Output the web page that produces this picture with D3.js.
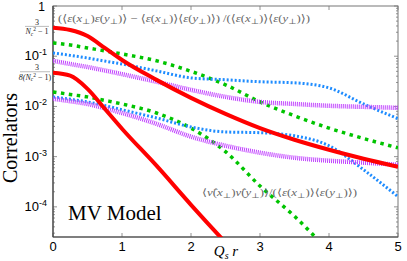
<!DOCTYPE html>
<html>
<head>
<meta charset="utf-8">
<script src="https://cdn.jsdelivr.net/npm/d3@7"></script>
<style>
  body { margin: 0; background: #fff; }
  svg { display: block; }
</style>
</head>
<body>
<div id="chart"></div>
<script>
// Q_s r sample points
var qVals = [0, 0.25, 0.5, 0.75, 1, 1.5, 2, 2.5, 3, 3.5, 4, 4.5, 5];

// upper group: connected energy density correlator
var redUpper     = [0.37, 0.333, 0.253, 0.146, 0.084, 0.0338, 0.0148, 0.0071, 0.0037, 0.00217, 0.00137, 0.00091, 0.00063];
var greenUpper   = [0.184, 0.167, 0.146, 0.128, 0.111, 0.081, 0.050, 0.027, 0.0123, 0.0065, 0.0037, 0.0023, 0.0015];
var blueUpper    = [0.116, 0.104, 0.092, 0.080, 0.070, 0.051, 0.037, 0.034, 0.031, 0.0295, 0.0234, 0.0112, 0.0057];
var magentaUpper = [0.081, 0.070, 0.061, 0.052, 0.044, 0.031, 0.0214, 0.0155, 0.0123, 0.0112, 0.0103, 0.0098, 0.0094];

// lower group: nu-hat correlator
var redLower     = [0.047, 0.041, 0.0224, 0.009, 0.0036, 0.00066, 0.00011, 1.95e-5, 3.7e-6, 7e-7, 1.3e-7, 2.5e-8, 5e-9];
var greenLower   = [0.0195, 0.0173, 0.0155, 0.0132, 0.0112, 0.0074, 0.0037, 0.00126, 0.00026, 6.5e-5, 1.3e-5, 2.4e-6, 5e-7];
var blueLower    = [0.0155, 0.0139, 0.0123, 0.0104, 0.0086, 0.0059, 0.0039, 0.0031, 0.0030, 0.0026, 0.00165, 0.00055, 0.00016];
var magentaLower = [0.0142, 0.0127, 0.0112, 0.0092, 0.0074, 0.0045, 0.0025, 0.00165, 0.0012, 0.00095, 0.00083, 0.00076, 0.00069];

var xTicks = [0, 1, 2, 3, 4, 5];
var yTicks = [1, 0.1, 0.01, 0.001, 0.0001];
var Nc = 3;
var fracTicks = [3 / (Nc * Nc - 1), 3 / (8 * (Nc * Nc - 1))];

var W = 407, H = 261;
var margin = {top: 6, right: 9, bottom: 24, left: 53},
    width = W - margin.left - margin.right,
    height = H - margin.top - margin.bottom;

var x = d3.scaleLinear().domain([0, 5]).range([0, width]);
var y = d3.scaleLog().domain([Math.pow(10, -4.6), 1]).range([height, 0]);

var svg = d3.select("#chart").append("svg")
    .attr("width", W)
    .attr("height", H);

var g = svg.append("g")
    .attr("transform", "translate(" + margin.left + "," + margin.top + ")");

g.append("clipPath").attr("id", "clip")
  .append("rect").attr("width", width).attr("height", height);

var axisColor = "#777";

// minor / major log ticks on left and right sides
var logTicks = [];
for (var k = -5; k <= 0; k++) {
  for (var m = 1; m <= 9; m++) {
    var v = m * Math.pow(10, k);
    if (v >= y.domain()[0] && v <= 1) logTicks.push({v: v, major: m == 1});
  }
}
g.selectAll(".ltick").data(logTicks).enter().append("line")
    .attr("x1", 0).attr("x2", function(d) { return d.major ? 4 : 2; })
    .attr("y1", function(d) { return y(d.v); }).attr("y2", function(d) { return y(d.v); })
    .style("stroke", axisColor).style("stroke-width", 0.8);
g.selectAll(".rtick").data(logTicks).enter().append("line")
    .attr("x1", width).attr("x2", function(d) { return width - (d.major ? 4 : 2); })
    .attr("y1", function(d) { return y(d.v); }).attr("y2", function(d) { return y(d.v); })
    .style("stroke", axisColor).style("stroke-width", 0.8);

// top/bottom ticks
g.selectAll(".btick").data(xTicks).enter().append("line")
    .attr("x1", function(d) { return x(d); }).attr("x2", function(d) { return x(d); })
    .attr("y1", height).attr("y2", height - 4)
    .style("stroke", axisColor).style("stroke-width", 0.8);
g.selectAll(".ttick").data(xTicks).enter().append("line")
    .attr("x1", function(d) { return x(d); }).attr("x2", function(d) { return x(d); })
    .attr("y1", 0).attr("y2", 4)
    .style("stroke", axisColor).style("stroke-width", 0.8);

// frame
g.append("rect")
    .attr("width", width).attr("height", height)
    .style("fill", "none").style("stroke", axisColor).style("stroke-width", 1);
g.append("line").attr("x1", 0).attr("x2", 0).attr("y1", 0).attr("y2", height)
    .style("stroke", "#444").style("stroke-width", 1.2);
g.append("line").attr("x1", 0).attr("x2", width).attr("y1", height).attr("y2", height)
    .style("stroke", "#444").style("stroke-width", 1.2);

// x tick labels
g.selectAll(".xlab").data(xTicks).enter().append("text")
    .attr("x", function(d) { return x(d); })
    .attr("y", height + 14)
    .style("font-family", "Liberation Sans, Arial, sans-serif")
    .style("font-size", "13px")
    .style("text-anchor", "middle")
    .text(function(d) { return d; });

// y tick labels
var ylab = g.selectAll(".ylab").data(yTicks).enter().append("text")
    .attr("x", -6)
    .attr("y", function(d) { return y(d) + 4; })
    .style("font-family", "Liberation Sans, Arial, sans-serif")
    .style("font-size", "13px")
    .style("text-anchor", "end");
ylab.each(function(d) {
  var t = d3.select(this);
  if (d == 1) { t.attr("x", -8).attr("y", y(d) + 5).style("font-size", "12px").text("1"); return; }
  t.append("tspan").text("10");
  t.append("tspan").attr("dy", -5).style("font-size", "9px")
    .text("-" + Math.round(-Math.log10(d)));
});

// fraction labels 3/(Nc^2-1) and 3/(8(Nc^2-1))
var serif = "Liberation Serif, 'DejaVu Serif', serif";
fracTicks.forEach(function(v, i) {
  var yy = y(v), cx = i == 0 ? -16 : -18;
  var fg = g.append("g").style("font-family", serif).style("font-size", "8px").style("fill", "#222");
  fg.append("text").attr("x", cx + (i == 0 ? 0 : 2)).attr("y", yy - 2.5).style("text-anchor", "middle").text("3");
  var lw = i == 0 ? 12 : 15;
  fg.append("line").attr("x1", cx - lw).attr("x2", cx + lw).attr("y1", yy - 1).attr("y2", yy - 1)
    .style("stroke", "#555").style("stroke-width", 0.4);
  var den = fg.append("text").attr("x", cx).attr("y", yy + 7).style("text-anchor", "middle");
  den.append("tspan").style("font-style", "italic").text(i == 0 ? "N" : "8(N");
  den.append("tspan").attr("dy", 1.5).style("font-size", "5.5px").style("font-style", "italic").text("c");
  den.append("tspan").attr("dy", -4.5).style("font-size", "5.5px").text("2");
  den.append("tspan").attr("dy", 3).text(" \u2212 1" + (i == 0 ? "" : ")"));
});

// curves
var line = d3.line()
    .x(function(d) { return x(d[0]); })
    .y(function(d) { return y(d[1]); })
    .curve(d3.curveMonotoneX);

function pairs(vals) { return qVals.map(function(q, i) { return [q, vals[i]]; }); }

var series = [
  {vals: greenUpper,   color: "#00c400", w: 3.5, dash: "3.5,4.5"},
  {vals: greenLower,   color: "#00c400", w: 3.5, dash: "3.5,4.5"},
  {vals: blueUpper,    color: "#1e8cff", w: 3,   dash: "2,2"},
  {vals: blueLower,    color: "#1e8cff", w: 3,   dash: "2,2"},
  {vals: magentaUpper, color: "#c040ff", w: 4.5, dash: "1,1"},
  {vals: magentaLower, color: "#c040ff", w: 4.5, dash: "1,1"},
  {vals: redUpper,     color: "#ff0000", w: 4,   dash: null},
  {vals: redLower,     color: "#ff0000", w: 4,   dash: null}
];

var plot = g.append("g").attr("clip-path", "url(#clip)");
series.forEach(function(s) {
  plot.append("path")
      .datum(pairs(s.vals))
      .attr("d", line)
      .style("fill", "none")
      .style("stroke", s.color)
      .style("stroke-width", s.w)
      .style("stroke-dasharray", s.dash);
});

// formula labels: "_" marks the next char as subscript
function formula(sel, str) {
  var shift = 0;
  for (var i = 0; i < str.length; i++) {
    var c = str[i];
    if (c == "_") {
      sel.append("tspan").attr("dy", 2).style("font-size", "0.7em").text(str[i + 1]);
      shift = -2;
      i++;
      continue;
    }
    // keep combining hat with its letter
    if (str[i + 1] == "\u0302") { c += "\u0302"; i++; }
    var ts = sel.append("tspan").text(c);
    if ("\u03b5xy\u03bd".indexOf(c[0]) >= 0) ts.style("font-style", "italic");
    if (shift) { ts.attr("dy", shift); shift = 0; }
  }
}

var topLab = g.append("text")
    .attr("x", 5).attr("y", 16)
    .attr("textLength", 252).attr("lengthAdjust", "spacingAndGlyphs")
    .style("font-family", serif).style("font-size", "11px").style("fill", "#666");
formula(topLab, "(\u27e8\u03b5(x_\u22a5)\u03b5(y_\u22a5)\u27e9 \u2212 \u27e8\u03b5(x_\u22a5)\u27e9\u27e8\u03b5(y_\u22a5)\u27e9) /(\u27e8\u03b5(x_\u22a5)\u27e9\u27e8\u03b5(y_\u22a5)\u27e9)");

var lowLab = g.append("text")
    .attr("x", 149).attr("y", 190)
    .attr("textLength", 155).attr("lengthAdjust", "spacingAndGlyphs")
    .style("font-family", serif).style("font-size", "10px").style("fill", "#666");
formula(lowLab, "\u27e8\u03bd\u0302(x_\u22a5)\u03bd\u0302(y_\u22a5)\u27e9/(\u27e8\u03b5(x_\u22a5)\u27e9\u27e8\u03b5(y_\u22a5)\u27e9)");

g.append("text")
    .attr("x", 15).attr("y", 214)
    .style("font-family", serif).style("font-size", "21px")
    .text("MV Model");

// axis titles
var xt = svg.append("text")
    .attr("x", 226).attr("y", 256)
    .style("font-family", serif).style("font-size", "15px")
    .style("text-anchor", "middle");
xt.append("tspan").style("font-style", "italic").text("Q");
xt.append("tspan").attr("dy", 3).style("font-size", "10px").style("font-style", "italic").text("s");
xt.append("tspan").attr("dy", -3).style("font-style", "italic").text("\u00a0r");

svg.append("text")
    .attr("transform", "translate(17,138) rotate(-90)")
    .style("font-family", serif).style("font-size", "20px")
    .style("text-anchor", "middle")
    .text("Correlators");
</script>
</body>
</html>
